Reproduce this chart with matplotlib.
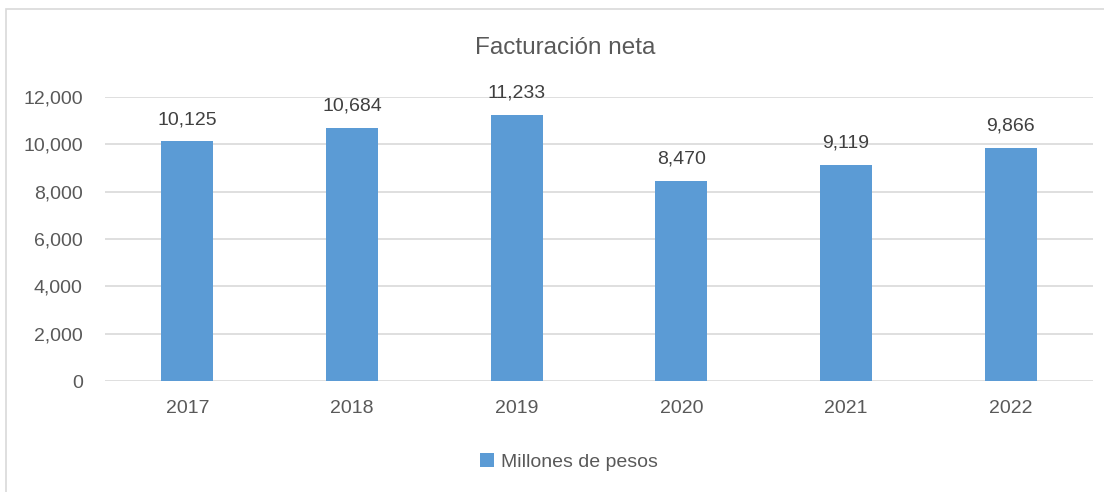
import matplotlib
matplotlib.use("Agg")
import matplotlib.pyplot as plt
from matplotlib.patches import Rectangle
from matplotlib.ticker import FuncFormatter

years = ["2017", "2018", "2019", "2020", "2021", "2022"]
values = [10125, 10684, 11233, 8470, 9119, 9866]
title = "Facturación neta"
series_name = "Millones de pesos"

plt.rcParams["font.family"] = ["Liberation Sans", "DejaVu Sans"]

W, H = 1104, 492
fig = plt.figure(figsize=(W / 100, H / 100), dpi=100)
fig.patches.append(Rectangle((6 / W, -0.1), 1.2, 1.1 - 9 / H, transform=fig.transFigure,
                             fill=False, edgecolor="#d9d9d9", linewidth=1.2))

ax = fig.add_axes([105 / W, 1 - 381 / H, (1093 - 105) / W, (381 - 97) / H])
x = range(len(years))
bars = ax.bar(x, values, width=0.315, color="#5b9bd5", zorder=3, label=series_name)
ax.set_xlim(-0.5, len(years) - 0.5)
ax.set_ylim(0, 12000)
ax.set_yticks(range(0, 12001, 2000))
ax.yaxis.set_major_formatter(FuncFormatter(lambda v, p: f"{int(v):,}"))
ax.set_xticks(list(x))
ax.set_xticklabels(years)
ax.grid(axis="y", color="#d9d9d9", linewidth=1.2, zorder=0)
for s in ax.spines.values():
    s.set_visible(False)
ax.tick_params(length=0, labelsize=14, labelcolor="#595959")
ax.tick_params(axis="y", pad=16)
ax.tick_params(axis="x", pad=14)

for xi, v in zip(x, values):
    ax.annotate(f"{v:,}", (xi, v), xytext=(0, 12.5), textcoords="offset points",
                ha="center", va="baseline", fontsize=14, color="#404040")

fig.text(565 / W, 1 - 48 / H, title, ha="center", va="center", fontsize=17.5, color="#595959")
leg = fig.legend(handles=[bars], labels=[series_name], loc="center", bbox_to_anchor=(569 / W, 1 - 462 / H),
                 frameon=False, fontsize=14, handlelength=0.75, handleheight=0.75, handletextpad=0.35)
for t in leg.get_texts():
    t.set_color("#595959")

fig.savefig("out.png", dpi=100)
